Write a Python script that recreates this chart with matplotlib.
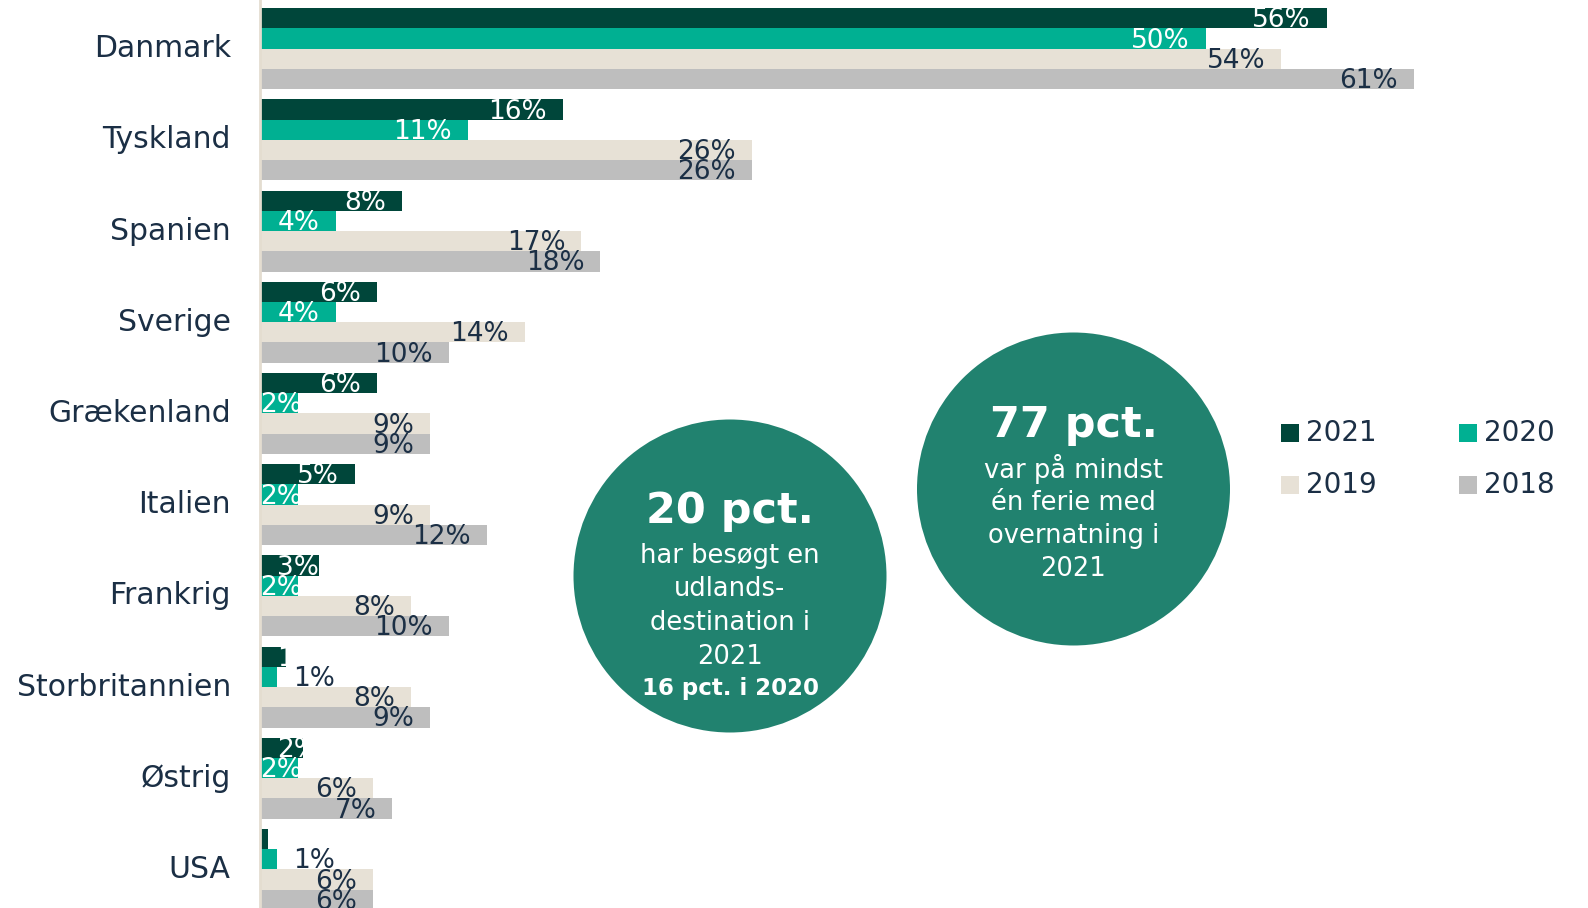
import matplotlib
matplotlib.use("Agg")
import matplotlib.pyplot as plt
import matplotlib.transforms as mtransforms
from matplotlib.patches import Circle, Rectangle
import numpy as np

plt.rcParams['font.family'] = ['DejaVu Sans']

# data (andel i pct.)
lande = ["Danmark", "Tyskland", "Spanien", "Sverige", "Grækenland",
         "Italien", "Frankrig", "Storbritannien", "Østrig", "USA"]
aar = ["2021", "2020", "2019", "2018"]
v2021 = [56.4, 16, 7.5, 6.2, 6.2, 5, 3.1, 1.4, 2.3, 0.4]
v2020 = [50, 11, 4, 4, 2, 2, 2, 0.9, 2, 0.9]
v2019 = [54, 26, 17, 14, 9, 9, 8, 8, 6, 6]
v2018 = [61, 26, 18, 10, 9, 12, 10, 9, 7, 6]

farver = ["#00463a", "#00b092", "#e7e1d6", "#bebebe"]
tekstfarver = ["white", "white", "#1b2f45", "#1b2f45"]
moerk = "#1b2f45"
cirkel_farve = "#21826f"

fig = plt.figure(figsize=(15.88, 9.08), dpi=100)
W, H = 1588, 908
ax = fig.add_axes([260 / W, 0, 1 - 260 / W, 1])

y = np.arange(len(lande))
h = 0.222
serier = [v2021, v2020, v2019, v2018]

for i, vals in enumerate(serier):
    ax.barh(y + (i - 1.5) * h, vals, height=h, color=farver[i], zorder=2)

# dataetiketter
px = 72 / 100  # points per pixel
for i, vals in enumerate(serier):
    for j, v in enumerate(vals):
        yy = y[j] + (i - 1.5) * h
        lab = f"{int(v + 0.5)}%"
        if v < 0.5:
            continue
        if v <= 1:
            ax.annotate(lab, (v, yy), xytext=(16 * px, -1.5), textcoords="offset points",
                        ha="left", va="center", fontsize=19, color=moerk, zorder=5)
        elif i < 2 and v < 3.5:
            start = 17 if i == 0 else 0
            ax.annotate(lab, (0, yy), xytext=(start * px, -1.5), textcoords="offset points",
                        ha="left", va="center", fontsize=19, color=tekstfarver[i], zorder=5)
        else:
            ax.annotate(lab, (v, yy), xytext=(-16 * px, -1.5), textcoords="offset points",
                        ha="right", va="center", fontsize=19, color=tekstfarver[i], zorder=5)

ax.set_ylim(-0.533 + 908 / 91.2, -0.533)
ax.set_xlim(0, (W - 260) / 18.91)
ax.set_yticks(y)
ax.set_yticklabels(lande, fontsize=21.5, color=moerk)
ax.tick_params(axis="y", length=0, pad=21)
flyt = mtransforms.ScaledTranslation(0, 3 / 100, fig.dpi_scale_trans)
for t in ax.get_yticklabels():
    t.set_transform(t.get_transform() + flyt)
ax.set_xticks([])
for s in ["top", "right", "bottom"]:
    ax.spines[s].set_visible(False)
ax.spines["left"].set_color("#e4ddd0")
ax.spines["left"].set_linewidth(2)
ax.patch.set_alpha(0)

# cirkler med nøgletal
def pkt(xp, yp):
    return xp / 100, (H - yp) / 100

for cx, cy in [(730, 576), (1073.5, 489)]:
    fig.patches.append(Circle(pkt(cx, cy), 1.565, transform=fig.dpi_scale_trans,
                              facecolor=cirkel_farve, edgecolor="none", zorder=1))

def ftekst(xp, yp, s, **kw):
    fig.text(xp / W, 1 - yp / H, s, ha="center", va="center", color="white", **kw)

ftekst(730, 511, "20 pct.", fontsize=31, fontweight="bold")
for k, linje in enumerate(["har besøgt en", "udlands-", "destination i", "2021"]):
    ftekst(730, 556 + k * 33.5, linje, fontsize=18.5)
ftekst(730, 689, "16 pct. i 2020", fontsize=16.5, fontweight="bold")

ftekst(1073.5, 425, "77 pct.", fontsize=31, fontweight="bold")
for k, linje in enumerate(["var på mindst", "én ferie med", "overnatning i", "2021"]):
    ftekst(1073.5, 469 + k * 33.5, linje, fontsize=18.5)

# forklaring
leg_pos = [(1281, 433), (1459, 433), (1281, 485), (1459, 485)]
for (lx, ly), navn, f in zip(leg_pos, aar, farver):
    fig.patches.append(Rectangle(((lx) / W, 1 - (ly + 9) / H), 18 / W, 18 / H,
                                 transform=fig.transFigure, facecolor=f, edgecolor="none"))
    fig.text((lx + 25) / W, 1 - ly / H, navn, ha="left", va="center",
             fontsize=20, color=moerk)

fig.savefig("out.png", dpi=100)
